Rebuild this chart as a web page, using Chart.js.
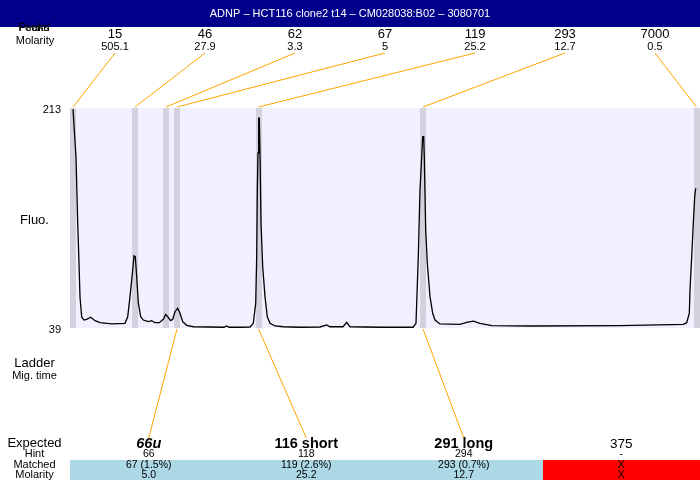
<!DOCTYPE html>
<html><head><meta charset="utf-8">
<script src="https://cdn.jsdelivr.net/npm/chart.js@4"></script>
<style>html,body{margin:0;padding:0;background:#fff}#wrap{width:700px;height:480px;position:relative}</style>
</head><body><div id="wrap"><canvas id="c" width="700" height="480"></canvas></div>
<script>
const titleText = 'ADNP – HCT116 clone2 t14 – CM028038:B02 – 3080701';
const ladderSizes = ['15','46','62','67','119','293','7000'];
const ladderMolarity = ['505.1','27.9','3.3','5','25.2','12.7','0.5'];
const ladderTimes = [3,65,96,107,188.5,353,626.5];
const expectedLabels = ['66u','116 short','291 long','375'];
const hintValues = ['66','118','294','-'];
const matchedValues = ['67 (1.5%)','119 (2.6%)','293 (0.7%)','X'];
const matchedMolarity = ['5.0','25.2','12.7','X'];
const matchedLadder = [3,4,5,null];
const yTicks = [39,213];
const traceTime = [3,6,7.7,9,10,11.7,14,16.7,20.7,25,30,41.7,55,57.7,60,62.7,64,65.3,66.7,68.3,70.7,73.3,78.3,81.7,85,89.3,93.3,95.7,97.7,100.7,102.7,105,107.7,110,112.7,116.7,123.3,154,156.7,159,170,180,183.3,185.7,186.7,187.3,188,188.7,189.3,190,191,192.7,195,197.3,200,205,213.3,230,250,256.7,260,273,276.7,280,310,343,346,348.3,350,351.7,352.7,353.7,354.3,355.7,357.3,360,362.7,365,370,390,396.7,403.3,410,421.7,460,550,613.3,616.7,619.3,620,621.7,623.3,624.7,625.7];
const traceFluo = [212,174.2,122.0,90.4,63.5,47.7,45.3,45.9,47.5,44.8,43.2,42.2,42.7,47.9,63.8,84.9,96.0,95.4,79.6,58.8,47.9,45.3,44.0,44.8,43.2,43.2,45.9,49.8,47.9,44.8,45.9,51.9,54.6,50.6,44.0,41.1,40.0,39.6,40.6,39.6,39.6,39.8,42.7,58.5,95.4,148.1,177.4,204.9,204.9,177.4,122.0,87.5,63.8,47.9,42.7,40.6,40.0,39.6,39.8,41.4,40.0,40.0,43.5,40.0,39.6,39.6,42.7,95.4,148.1,174.5,190.3,190.3,174.5,116.5,90.2,63.8,50.6,45.3,42.2,41.8,43.5,44.5,42.7,40.8,40.6,40.8,41.9,43.2,50.6,69.1,95.4,121.8,142.9,149.5];

const FONT = "'Liberation Sans', Arial, sans-serif";
const expectedStyle = ['italic bold 14.5px ', 'bold 14.5px ', 'bold 14.5px ', '13.5px '];

function txt(ctx, s, x, y, font, color) {
  ctx.font = font + FONT;
  ctx.fillStyle = color || '#000';
  ctx.textAlign = 'center';
  ctx.textBaseline = 'middle';
  ctx.fillText(s, x, y);
}

const deco = {
  id: 'deco',
  beforeDraw(chart) {
    const {ctx, chartArea: a, scales: {x}} = chart;
    ctx.save();
    ctx.fillStyle = '#fff'; ctx.fillRect(0, 0, chart.width, chart.height);
    ctx.fillStyle = '#F0F0FF'; ctx.fillRect(a.left, a.top, a.right - a.left, a.bottom - a.top);
    ctx.fillStyle = '#D2D2DF';
    ladderTimes.forEach(t => {
      const px = x.getPixelForValue(t);
      const l = Math.max(a.left, Math.round(px - 3)), r = Math.min(a.right, Math.round(px + 3));
      ctx.fillRect(l, a.top, r - l, a.bottom - a.top);
    });
    ctx.restore();
  },
  afterDraw(chart) {
    const {ctx, chartArea: a, scales: {x}} = chart;
    ctx.save();
    // title bar
    ctx.fillStyle = '#00008B'; ctx.fillRect(0, 0, chart.width, 27);
    txt(ctx, titleText, 350, 14, '11px ', '#fff');
    // left labels
    txt(ctx, 'Found', 34, 28, '11px ');
    txt(ctx, 'Peaks', 34, 28, '11px ');
    txt(ctx, 'Molarity', 35, 41, '11px ');
    txt(ctx, 'Fluo.', 34.5, 220, '13px ');
    txt(ctx, 'Ladder', 34.5, 363, '13px ');
    txt(ctx, 'Mig. time', 34.5, 376, '11px ');
    txt(ctx, 'Expected', 34.5, 443, '13px ');
    txt(ctx, 'Hint', 34.5, 454, '11px ');
    txt(ctx, 'Matched', 34.5, 465, '11px ');
    txt(ctx, 'Molarity', 34.5, 475, '11px ');
    // ladder labels & connectors
    const colW = (a.right - a.left) / ladderSizes.length;
    ctx.strokeStyle = '#FFA500'; ctx.lineWidth = 1;
    ladderSizes.forEach((s, i) => {
      const cx = a.left + colW * (i + 0.5);
      txt(ctx, s, cx, 34, '13px ');
      txt(ctx, ladderMolarity[i], cx, 47, '11px ');
      ctx.beginPath();
      ctx.moveTo(cx, 53);
      ctx.lineTo(x.getPixelForValue(ladderTimes[i]), a.top - 1);
      ctx.stroke();
    });
    // expected table
    const colW2 = (a.right - a.left) / expectedLabels.length;
    expectedLabels.forEach((s, i) => {
      const l = Math.round(a.left + colW2 * i), r = Math.round(a.left + colW2 * (i + 1)), cx = a.left + colW2 * (i + 0.5);
      ctx.fillStyle = matchedValues[i] === 'X' ? '#FF0000' : '#ADD8E6';
      ctx.fillRect(l, 460, r - l, 20);
      if (matchedLadder[i] !== null) {
        ctx.strokeStyle = '#FFA500';
        ctx.beginPath();
        ctx.moveTo(x.getPixelForValue(ladderTimes[matchedLadder[i]]), a.bottom + 1);
        ctx.lineTo(cx, 438);
        ctx.stroke();
      }
    });
    expectedLabels.forEach((s, i) => {
      const cx = a.left + colW2 * (i + 0.5);
      txt(ctx, s, cx, 444, expectedStyle[i]);
      txt(ctx, hintValues[i], cx, 454, '10.5px ');
      txt(ctx, matchedValues[i], cx, 465.5, '10.5px ');
      txt(ctx, matchedMolarity[i], cx, 475, '10.5px ');
    });
    ctx.restore();
  }
};

new Chart(document.getElementById('c'), {
  type: 'line',
  data: {
    datasets: [{
      data: traceTime.map((t, i) => ({x: t, y: traceFluo[i]})),
      borderColor: '#000', borderWidth: 1.3, pointRadius: 0, tension: 0, fill: false
    }]
  },
  options: {
    responsive: false, animation: false, devicePixelRatio: 1,
    layout: {padding: {top: 108, bottom: 152, left: 0, right: 0}},
    plugins: {legend: {display: false}, tooltip: {enabled: false}, title: {display: false}},
    scales: {
      x: {type: 'linear', min: 0, max: 630, display: false},
      y: {
        min: 39, max: 213,
        afterBuildTicks: s => { s.ticks = yTicks.map(v => ({value: v})); },
        afterFit: s => { s.width = 70; },
        grid: {display: false, drawTicks: false},
        border: {display: false},
        ticks: {color: '#000', padding: 9, labelOffset: 2, font: {family: FONT, size: 11}}
      }
    }
  },
  plugins: [deco]
});
</script></body></html>
